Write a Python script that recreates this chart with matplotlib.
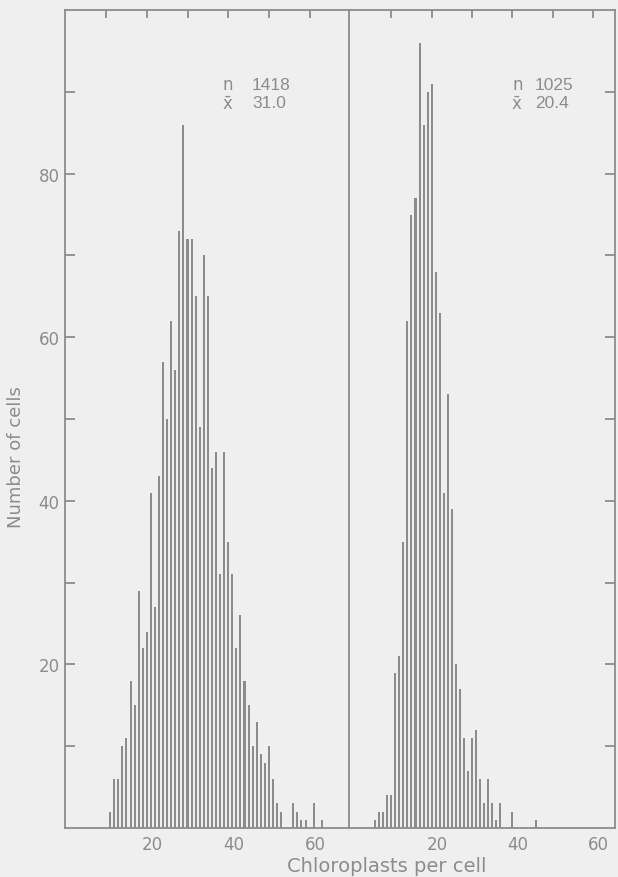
import matplotlib
matplotlib.use('Agg')
import matplotlib.pyplot as plt
import matplotlib.transforms as mtransforms

# chloroplast counts (x) and number of cells (y)
leftCounts = list(range(11, 54)) + [56, 57, 58, 59, 61, 63]
leftCells = [2, 6, 6, 10, 11, 18, 15, 29, 22, 24, 41, 27, 43, 57, 50, 62, 56, 73, 86, 72,
             72, 65, 49, 70, 65, 44, 46, 31, 46, 35, 31, 22, 26, 18, 15, 10, 13, 9, 8, 10,
             6, 3, 2, 3, 2, 1, 1, 3, 1]
rightCounts = list(range(6, 38)) + [40, 46]
rightCells = [1, 2, 2, 4, 4, 19, 21, 35, 62, 75, 77, 96, 86, 90, 91, 68, 63, 41, 53, 39,
              20, 17, 11, 7, 11, 12, 6, 3, 6, 3, 1, 3, 2, 1]

leftStats = [('n', '1418'), ('x\u0304', '31.0')]
rightStats = [('n', '1025'), ('x\u0304', '20.4')]

ink = '#8c8c8c'
paper = '#efefef'
plt.rcParams['font.family'] = 'DejaVu Sans'
plt.rcParams['font.size'] = 12

fig = plt.figure(figsize=(6.18, 8.78), dpi=100, facecolor=paper)
axL = fig.add_axes([65 / 618, 49 / 878, 284 / 618, 818 / 878])
axR = fig.add_axes([349 / 618, 49 / 878, 266 / 618, 818 / 878], sharey=axL)

# the printed labels sit a few pixels right of the true positions
labelShift = mtransforms.ScaledTranslation(6 / 100, 0, fig.dpi_scale_trans)

for ax in (axL, axR):
    ax.set_facecolor(paper)
    for s in ax.spines.values():
        s.set_color(ink)
        s.set_linewidth(1.3)
    ax.set_ylim(0, 100)
    ax.set_xticks([20, 40, 60])
    ax.tick_params(axis='x', which='both', length=0, colors=ink, labelsize=12, pad=5)
    ax.tick_params(axis='y', which='both', direction='in', length=7, width=1.3, colors=ink)
    for lab in ax.get_xticklabels():
        lab.set_transform(lab.get_transform() + labelShift)
    sec = ax.secondary_xaxis('top')
    sec.set_xticks([10, 20, 30, 40, 50, 60])
    sec.tick_params(direction='in', length=6, width=1.3, colors=ink, labeltop=False)
    sec.spines['top'].set_visible(False)

axL.bar(leftCounts, leftCells, width=0.5, color=ink, linewidth=0)
axR.bar(rightCounts, rightCells, width=0.5, color=ink, linewidth=0)

axL.set_xlim(-0.1, 284 / 4.07 - 0.1)
axR.set_xlim(-0.5, 266 / 4.03 - 0.5)

axL.set_yticks([10, 20, 30, 40, 50, 60, 70, 80, 90])
axL.set_yticklabels(['', '20', '', '40', '', '60', '', '80', ''])
axL.tick_params(axis='y', labelsize=12, labelcolor=ink, pad=4)
axL.spines['right'].set_visible(False)
axR.tick_params(axis='y', left=False, right=True, labelleft=False)

axL.set_ylabel('Number of cells', color=ink, fontsize=13)
axL.yaxis.set_label_coords(-0.14, 0.455)
fig.text(387 / 618, 1 - 867 / 878, 'Chloroplasts per cell', color=ink, fontsize=14,
         ha='center', va='center')

# n and mean, symbol and number set apart as in the original
for stats, xSym, xNum in ((leftStats, 223, 252), (rightStats, 512, 535)):
    for (sym, num), ypos in zip(stats, (85, 104)):
        fig.text(xSym / 618, 1 - ypos / 878, sym, color=ink, fontsize=12,
                 ha='left', va='center')
        fig.text(xNum / 618, 1 - ypos / 878, num, color=ink, fontsize=12.5,
                 family='Liberation Sans', ha='left', va='center')

fig.savefig('out.png', dpi=100, facecolor=paper)
